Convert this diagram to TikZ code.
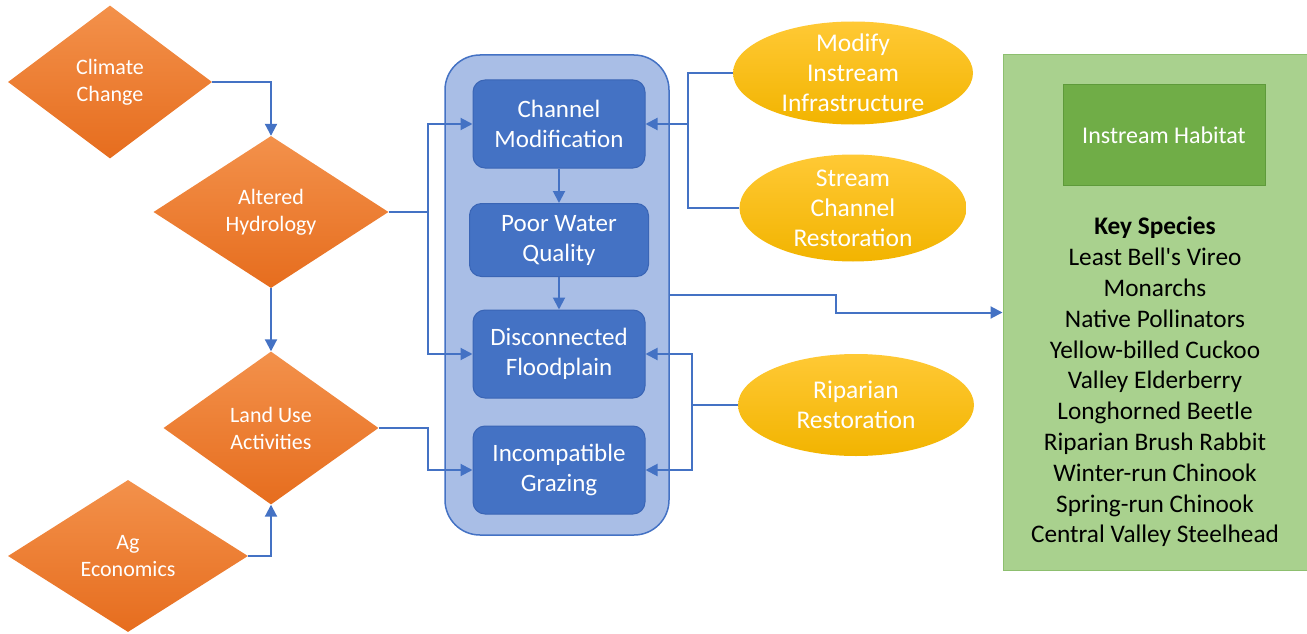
\documentclass[tikz,border=0pt]{standalone}
\usepackage{fontspec}
\setmainfont{Carlito}
\usetikzlibrary{shapes.geometric,arrows.meta}
\definecolor{lineblue}{HTML}{4472C4}
\definecolor{boxedge}{HTML}{3A65B5}
\definecolor{panelblue}{HTML}{A9BEE6}
\definecolor{orangetop}{HTML}{F3914B}
\definecolor{orangebot}{HTML}{E66D1E}
\definecolor{goldtop}{HTML}{FFC935}
\definecolor{goldbot}{HTML}{F2B400}
\definecolor{leafgreen}{HTML}{A9D18E}
\definecolor{leafedge}{HTML}{8DBF6F}
\definecolor{deepgreen}{HTML}{70AD47}
\definecolor{deepedge}{HTML}{5E9A3A}

\begin{document}
\begin{tikzpicture}[
		x=1pt, y=-1pt,
		driver/.style={diamond, inner sep=0pt, top color=orangetop, bottom color=orangebot, text=white, align=center, font=\fontsize{22}{27}\selectfont},
		stressor/.style={rectangle, rounded corners=12pt, fill=lineblue, draw=boxedge, line width=1pt, text=white, align=center, minimum width=172pt, minimum height=88pt, font=\fontsize{25}{30}\selectfont},
		action/.style={ellipse, inner sep=-8pt, top color=goldtop, bottom color=goldbot, text=white, align=center, font=\fontsize{25.5}{30}\selectfont},
		link/.style={draw=lineblue, line width=2pt},
		arr/.style={link, -{Triangle[length=12pt,width=12pt]}}
	]
  \useasboundingbox (0,0) rectangle (1307,634);

  \node (climate) [driver, minimum width=204pt, minimum height=153pt] at (110, 82) {Climate\\Change};
  \node (altered) [driver, minimum width=235pt, minimum height=152pt] at (271, 212) {Altered\\Hydrology};
  \node (land_use) [driver, minimum width=215pt, minimum height=153pt] at (271, 428) {Land Use\\Activities};
  \node (ag_econ) [driver, minimum width=240pt, minimum height=152pt] at (128, 556) {Ag\\Economics};

  \node (panel) [rectangle, rounded corners=35pt, fill=panelblue, draw=lineblue, line width=1.5pt, minimum width=224pt, minimum height=480pt] at (557, 295) {};
  \node (chan_mod) [stressor] at (559, 124) {Channel\\Modification};
  \node (water_q) [stressor, minimum width=179pt, minimum height=73pt] at (559, 240) {Poor Water\\Quality};
  \node (flood) [stressor] at (559, 354) {Disconnected\\Floodplain};
  \node (grazing) [stressor] at (559, 470) {Incompatible\\Grazing};

  \node (modify) [action, minimum width=240pt, minimum height=103pt] at (853, 73) {Modify\\Instream\\Infrastructure};
  \node (stream) [action, minimum width=227pt, minimum height=107pt] at (853, 208) {Stream\\Channel\\Restoration};
  \node (riparian) [action, minimum width=236pt, minimum height=102pt] at (856, 405) {Riparian\\Restoration};

  \node (key_box) [rectangle, fill=leafgreen, draw=leafedge, line width=1pt, minimum width=304pt, minimum height=515pt] at (1155, 312.5) {};
  \node (habitat) [rectangle, fill=deepgreen, draw=deepedge, line width=1pt, minimum width=202pt, minimum height=100pt, text=white, font=\fontsize{24}{29}\selectfont] at (1164, 135) {Instream Habitat};
  \node (species) [align=center, font=\fontsize{25.3}{30.8}\selectfont] at (1155, 382) {\textbf{Key Species}\\Least Bell\textquotesingle s Vireo\\Monarchs\\Native Pollinators\\Yellow-billed Cuckoo\\Valley Elderberry\\Longhorned Beetle\\Riparian Brush Rabbit\\Winter-run Chinook\\Spring-run Chinook\\Central Valley Steelhead};

  \coordinate (h_split) at (428, 212);
  \coordinate (l_bend) at (428, 428);
  \coordinate (r_split) at (688, 124);
  \coordinate (p_split) at (692, 405);
  \coordinate (k_bend) at (836, 295);

  \draw[arr] (climate.east) -| (altered.north);
  \draw[arr] (altered.south) -- (land_use.north);
  \draw[arr] (ag_econ.east) -| (land_use.south);
  \draw[link] (altered.east) -- (h_split);
  \draw[arr] (h_split) |- (chan_mod.west);
  \draw[arr] (h_split) |- (flood.west);
  \draw[arr] (land_use.east) -- (l_bend) |- (grazing.west);
  \draw[arr] (chan_mod.south) -- (water_q.north);
  \draw[arr] (water_q.south) -- (flood.north);
  \draw[arr] (modify.west) -| (r_split) -- (chan_mod.east);
  \draw[link] (stream.west) -| (r_split);
  \draw[link] (riparian.west) -- (p_split);
  \draw[arr] (p_split) |- (flood.east);
  \draw[arr] (p_split) |- (grazing.east);
  \draw[arr] (panel.east) -- (k_bend) |- (key_box.west);
\end{tikzpicture}
\end{document}
